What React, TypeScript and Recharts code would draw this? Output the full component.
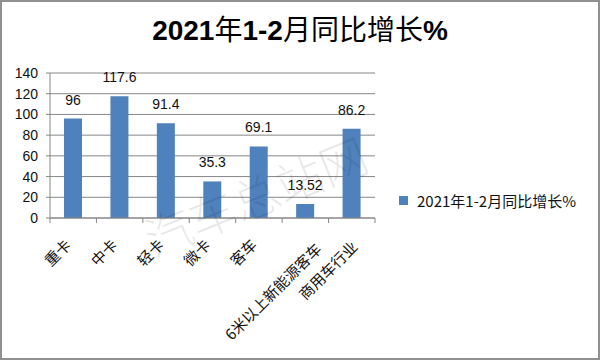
import React from 'react';
import { BarChart, Bar, XAxis, YAxis, CartesianGrid, Legend, LabelList } from 'recharts';

const categories = ['重卡', '中卡', '轻卡', '微卡', '客车', '6米以上新能源客车', '商用车行业'];
const growth = [96, 117.6, 91.4, 35.3, 69.1, 13.52, 86.2];
const yTicks = [0, 20, 40, 60, 80, 100, 120, 140];
const seriesName = '2021年1-2月同比增长%';

const data = categories.map((name, i) => ({ name, value: growth[i] }));

const GRAY = '#868686';
const BLUE = '#4f81bd';
const NUM_FONT = '"Liberation Sans", Arial, sans-serif';
const CJK_FONT = '"Noto Sans CJK SC", "Liberation Sans", sans-serif';

const XTick = (props: any) => {
  const { x, y, payload, index } = props;
  const half = payload && payload.offset ? payload.offset : 23.2;
  // longer rotated labels sit a little further right, like in Excel
  const extra = Math.max(0, String(payload.value).length - 2);
  const ax = x - 1 + extra * 2.6;
  const ay = y + 28 + extra * 0.6;
  return (
    <g>
      <line x1={x - half} x2={x - half} y1={y} y2={y + 5} stroke={GRAY} />
      {index === categories.length - 1 && (
        <line x1={x + half} x2={x + half} y1={y} y2={y + 5} stroke={GRAY} />
      )}
      <text
        x={ax}
        y={ay}
        transform={`rotate(-45, ${ax}, ${ay})`}
        textAnchor="end"
        fontSize={15}
        fontFamily={CJK_FONT}
        fill="#111"
      >
        {payload.value}
      </text>
    </g>
  );
};

const LegendContent = (props: any) => {
  const items = props.payload || [];
  return (
    <div>
      {items.map((it: any) => (
        <div key={it.value} style={{ display: 'flex', alignItems: 'center', fontSize: 15, fontFamily: CJK_FONT, color: '#111' }}>
          <span style={{ width: 9, height: 9, background: it.color, marginRight: 9, display: 'inline-block' }} />
          <span>{it.value}</span>
        </div>
      ))}
    </div>
  );
};

export default function App() {
  return (
    <div style={{ position: 'absolute', left: 0, top: 0, width: 600, height: 360, background: '#fff' }}>
      <div style={{ position: 'absolute', left: 0, top: 0, width: 596, height: 356, border: '2px solid #909090' }} />
      <div
        style={{
          position: 'absolute', left: 0, top: 10, width: 600, textAlign: 'center',
          fontSize: 28, lineHeight: '36px', color: '#000', fontFamily: CJK_FONT,
        }}
      >
        <span style={{ fontFamily: NUM_FONT, fontWeight: 'bold' }}>2021</span>
        <span>年</span>
        <span style={{ fontFamily: NUM_FONT, fontWeight: 'bold' }}>1-2</span>
        <span>月同比增长</span>
        <span style={{ fontFamily: NUM_FONT, fontWeight: 'bold' }}>%</span>
      </div>
      <BarChart
        width={600}
        height={360}
        data={data}
        margin={{ top: 73, right: 225, bottom: 0, left: 8 }}
        style={{ position: 'absolute', left: 0, top: 0 }}
      >
        <CartesianGrid vertical={false} stroke={GRAY} />
        <XAxis
          dataKey="name"
          height={142}
          interval={0}
          stroke={GRAY}
          tickSize={0}
          tickMargin={0}
          tickLine={false}
          tick={<XTick />}
        />
        <YAxis
          width={42}
          domain={[0, 140]}
          ticks={yTicks}
          interval={0}
          stroke={GRAY}
          tickSize={4}
          tickMargin={8}
          tick={{ fill: '#111', fontSize: 14, fontFamily: NUM_FONT }}
        />
        <Legend
          layout="vertical"
          align="center"
          verticalAlign="middle"
          wrapperStyle={{ left: 399, top: 190, width: 200 }}
          content={<LegendContent />}
        />
        <Bar dataKey="value" name={seriesName} fill={BLUE} barSize={18} isAnimationActive={false}>
          <LabelList
            dataKey="value"
            position="top"
            offset={14}
            style={{ fill: '#111', fontSize: 14, fontFamily: NUM_FONT }}
          />
        </Bar>
      </BarChart>
      <div
        style={{
          position: 'absolute', left: 130, top: 160, width: 250, textAlign: 'center',
          fontSize: 47, fontFamily: CJK_FONT, fontWeight: 300, color: 'rgba(0,0,0,0.09)',
          transform: 'rotate(-22deg)', pointerEvents: 'none', whiteSpace: 'nowrap',
        }}
      >
        汽车总站网
      </div>
    </div>
  );
}
